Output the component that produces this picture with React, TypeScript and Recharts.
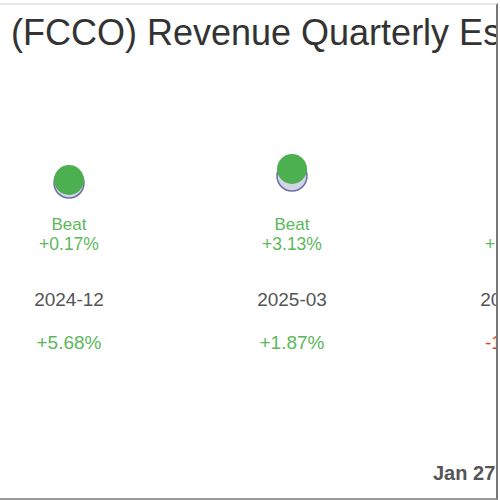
import React from "react";
import { Scatter, ScatterChart, XAxis, YAxis } from "recharts";

// quarters shown in the strip (third one runs off the right edge)
const QUARTERS = ["2024-12", "2025-03", "2025-06"];
// revenue, $M
const ESTIMATES = [17.25, 17.6, 18.1];
const ACTUALS = [17.4, 17.95, 18.7];
const RESULT_LABELS = ["Beat", "Beat", "Beat"];
const SURPRISES = ["+0.17%", "+3.13%", "+3.35%"];
const PRICE_MOVES = ["+5.68%", "+1.87%", "-1.92%"];

const GREEN = "#4caf50";
const GREEN_TEXT = "#5cb85c";
const RED_TEXT = "#e53935";
const FONT = "'Liberation Sans', Arial, sans-serif";

const estData = QUARTERS.map((q, i) => ({ x: i, y: ESTIMATES[i], quarter: q }));
const actData = QUARTERS.map((q, i) => ({
  x: i,
  y: ACTUALS[i],
  quarter: q,
  result: RESULT_LABELS[i],
  surprise: SURPRISES[i],
  move: PRICE_MOVES[i],
}));

function EstimateDot(props: any) {
  const { cx, cy } = props;
  return <circle cx={cx} cy={cy} r={15} fill="#d3d3e6" stroke="#6f6fa8" strokeWidth={1.5} />;
}

function ActualDot(props: any) {
  const { cx, cy, payload } = props;
  const moveColor = payload.move.startsWith("-") ? RED_TEXT : GREEN_TEXT;
  return (
    <g fontFamily={FONT} textAnchor="middle">
      <circle cx={cx} cy={cy} r={15} fill={GREEN} />
      <text x={cx} y={230} fontSize={17} fill={GREEN_TEXT}>
        {payload.result}
      </text>
      <text x={cx} y={249.5} fontSize={17.5} fill={GREEN_TEXT}>
        {payload.surprise}
      </text>
      <text x={cx} y={306} fontSize={19} fill="#555">
        {payload.quarter}
      </text>
      <text x={cx} y={349} fontSize={19} fill={moveColor}>
        {payload.move}
      </text>
    </g>
  );
}

export default function App() {
  return (
    <div
      style={{
        position: "absolute",
        left: 0,
        top: 0,
        width: 500,
        height: 500,
        overflow: "hidden",
        background: "#fff",
        fontFamily: FONT,
      }}
    >
      <div
        style={{
          position: "absolute",
          left: 0,
          top: 0,
          width: 496,
          height: 496,
          overflow: "hidden",
        }}
      >
        <div
          style={{
            position: "absolute",
            left: 11,
            top: 12,
            fontSize: 36,
            lineHeight: "41px",
            color: "#333",
            whiteSpace: "nowrap",
          }}
        >
          (FCCO) Revenue Quarterly Estimates vs Actuals
        </div>
        <div style={{ position: "absolute", left: 0, top: 0 }}>
          <ScatterChart width={669} height={500} margin={{ top: 0, right: 0, bottom: 0, left: 0 }}>
            <XAxis type="number" dataKey="x" domain={[-0.3094, 2.6906]} hide />
            <YAxis type="number" dataKey="y" domain={[1.4, 26.4]} hide />
            <Scatter data={estData} shape={EstimateDot} isAnimationActive={false} />
            <Scatter data={actData} shape={ActualDot} isAnimationActive={false} />
          </ScatterChart>
        </div>
        <div
          style={{
            position: "absolute",
            left: 433,
            top: 462,
            fontSize: 20,
            lineHeight: "23px",
            fontWeight: "bold",
            color: "#555",
            whiteSpace: "nowrap",
          }}
        >
          Jan 27, 2026
        </div>
      </div>
      <div
        style={{
          position: "absolute",
          left: -10,
          top: 3,
          width: 506,
          height: 493,
          borderTop: "2px solid #e4e6ea",
          borderRight: "2px solid #777",
          borderBottom: "2px solid #999",
        }}
      />
    </div>
  );
}
